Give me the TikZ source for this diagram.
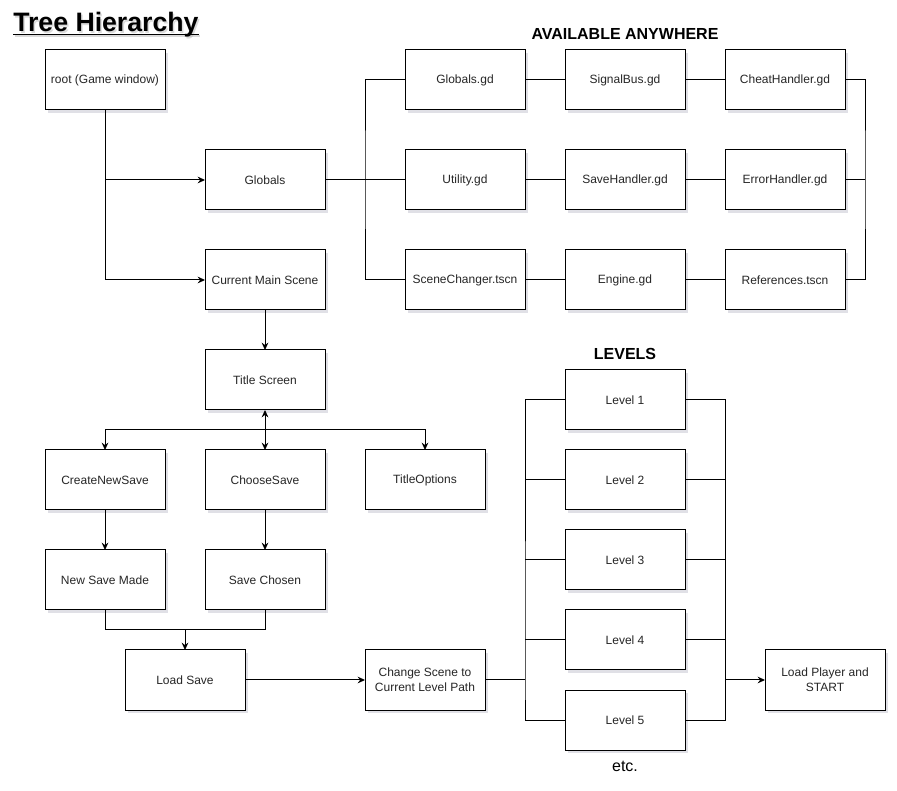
\documentclass[tikz,border=0pt]{standalone}
\usepackage{fontspec}
\setmainfont{Liberation Sans}
\usetikzlibrary{positioning}
\usetikzlibrary{arrows.meta}
\usetikzlibrary{shadows}
\usetikzlibrary{calc}
\tikzset{
    box/.style = {rectangle, draw=black, line width=0.75pt, outer sep=0pt, fill=white, minimum width=90pt, minimum height=45pt, inner sep=2pt, align=center, font=\fontsize{9}{11}\selectfont, text=black!85, drop shadow={shadow xshift=2pt, shadow yshift=-2pt, opacity=0.12, fill=blue!20!black}},
    heading/.style = {font=\fontsize{12}{14}\selectfont\bfseries},
    bigtitle/.style = {anchor=base west, inner sep=0, font=\fontsize{20}{22}\selectfont\bfseries},
    link/.style = {line width=0.75pt},
    edgen/.style = {-{Stealth[length=5.5pt,width=5pt]},line width=0.75pt},
    edgenn/.style = {{Stealth[length=5.5pt,width=5pt]}-{Stealth[length=5.5pt,width=5pt]},line width=0.75pt}
}

\begin{document}
\begin{tikzpicture}[x=0.75pt,y=-0.75pt]
  \useasboundingbox (0,0) rectangle (897,791);
  \node[bigtitle, text=black!35, opacity=.4] (titleshadow) at (14.5,33.5) {Tree Hierarchy};
  \draw[black!35, opacity=.4, line width=1.5pt] ([yshift=-2pt]titleshadow.base west) -- ([yshift=-2pt]titleshadow.base east);
  \node[bigtitle] (maintitle) at (13,32) {Tree Hierarchy};
  \draw[line width=1.1pt] ([yshift=-1.8pt]maintitle.base west) -- ([yshift=-1.8pt]maintitle.base east);
  \node[heading] (avail) at (625,34) {AVAILABLE ANYWHERE};
  \node[heading] (levels) at (625,354) {LEVELS};
  \node[font=\fontsize{12}{14}\selectfont] (etc) at (625,766) {etc.};

  % scene tree
  \node[box] (root) at (105,80) {root (Game window)};
  \node[box, below right=30pt and 30pt of root] (glob) {Globals};
  \node[box, below=30pt of glob] (cms) {Current Main Scene};

  % autoloads
  \node[box, right=60pt of glob] (util) {Utility.gd};
  \node[box, above=30pt of util] (gscript) {Globals.gd};
  \node[box, below=30pt of util] (scene) {SceneChanger.tscn};
  \node[box, right=30pt of gscript] (signal) {SignalBus.gd};
  \node[box, right=30pt of signal] (cheat) {CheatHandler.gd};
  \node[box, right=30pt of util] (saveh) {SaveHandler.gd};
  \node[box, right=30pt of saveh] (errh) {ErrorHandler.gd};
  \node[box, right=30pt of scene] (engine) {Engine.gd};
  \node[box, right=30pt of engine] (refs) {References.tscn};

  % title screen
  \node[box, below=30pt of cms] (title) {Title Screen};
  \node[box, below=30pt of title] (choose) {ChooseSave};
  \node[box, left=30pt of choose] (create) {CreateNewSave};
  \node[box, right=30pt of choose] (topts) {TitleOptions};
  \node[box, below=30pt of create] (newsave) {New Save Made};
  \node[box, below=30pt of choose] (chosen) {Save Chosen};
  \node[box] (load) at (185,680) {Load Save};
  \node[box, right=90pt of load] (change) {Change Scene to\\Current Level Path};

  % levels
  \node[box] (lvl1) at (625,400) {Level 1};
  \node[box, below=15pt of lvl1] (lvl2) {Level 2};
  \node[box, below=15pt of lvl2] (lvl3) {Level 3};
  \node[box, below=15pt of lvl3] (lvl4) {Level 4};
  \node[box, below=15pt of lvl4] (lvl5) {Level 5};
  \node[box] (start) at (825,680) {Load Player and\\START};

  \draw[edgen] (root) |- (glob);
  \draw[edgen] (root) |- (cms);

  \coordinate (gbus) at ($(glob.east)!.5!(util.west)$);
  \draw[link] (glob) -- (util);
  \draw[link] (gscript) -| (gbus) |- (scene);
  \draw[link] (gscript) -- (signal);
  \draw[link] (signal) -- (cheat);
  \draw[link] (util) -- (saveh);
  \draw[link] (saveh) -- (errh);
  \draw[link] (scene) -- (engine);
  \draw[link] (engine) -- (refs);
  \coordinate (rbus) at ([xshift=15pt]errh.east);
  \draw[link] (errh) -- (rbus);
  \draw[link] (cheat) -| (rbus) |- (refs);

  \draw[edgen] (cms) -- (title);
  \draw[edgenn] (title) -- (choose);
  \coordinate (tbus) at ($(title.south)!.5!(choose.north)$);
  \draw[edgen] (tbus) -| (create);
  \draw[edgen] (tbus) -| (topts);
  \draw[edgen] (create) -- (newsave);
  \draw[edgen] (choose) -- (chosen);
  \coordinate (lbus) at ([yshift=15pt]load.north);
  \draw[link] (newsave) |- (lbus);
  \draw[link] (chosen) |- (lbus);
  \draw[edgen] (lbus) -- (load);
  \draw[edgen] (load) -- (change);

  \coordinate (lvbus) at ([xshift=30pt]change.east);
  \draw[link] (change) -- (lvbus);
  \draw[link] (lvl1) -| (lvbus) |- (lvl5);
  \draw[link] (lvl2) -- (lvl2 -| lvbus);
  \draw[link] (lvl3) -- (lvl3 -| lvbus);
  \draw[link] (lvl4) -- (lvl4 -| lvbus);
  \coordinate (lvout) at ([xshift=30pt]lvl1.east);
  \draw[link] (lvl1) -| (lvout |- lvl5) -- (lvl5);
  \draw[link] (lvl2) -- (lvl2 -| lvout);
  \draw[link] (lvl3) -- (lvl3 -| lvout);
  \draw[link] (lvl4) -- (lvl4 -| lvout);
  \draw[edgen] (start -| lvout) -- (start);
\end{tikzpicture}
\end{document}
